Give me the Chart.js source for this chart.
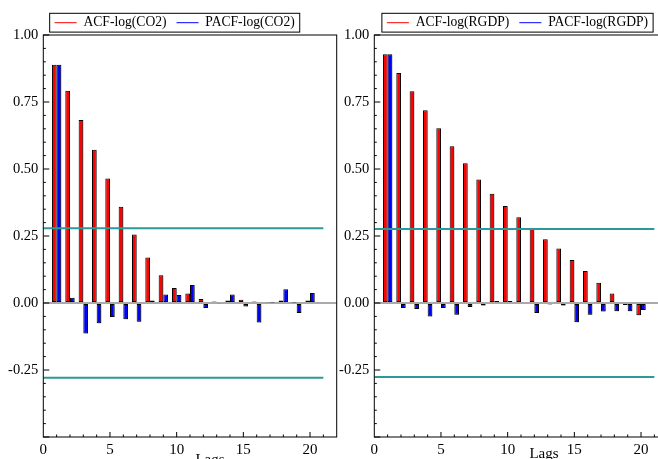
<!DOCTYPE html>
<html><head><meta charset="utf-8">
<script src="https://cdn.jsdelivr.net/npm/chart.js@4.4.1/dist/chart.umd.min.js"></script>
<style>
html,body{margin:0;padding:0;width:658px;height:459px;overflow:hidden;background:#fff;}
canvas{position:absolute;top:0;}
#c1{left:0;}
#c2{left:331px;}
</style></head><body>
<canvas id="c1" width="345" height="459"></canvas>
<canvas id="c2" width="345" height="459"></canvas>
<script>
// ---------- data ----------
const lags = [1,2,3,4,5,6,7,8,9,10,11,12,13,14,15,16,17,18,19,20];
const acfCO2  = [0.889,0.792,0.683,0.572,0.465,0.359,0.256,0.170,0.104,0.056,0.035,0.015,0.006,0.009,0.012,0.006,0.003,0.009,0.002,0.009];
const pacfCO2 = [0.889,0.020,-0.114,-0.076,-0.052,-0.061,-0.070,0.009,0.032,0.030,0.067,-0.019,-0.003,0.032,-0.013,-0.073,0.002,0.051,-0.037,0.037];
const acfRGDP  = [0.928,0.858,0.790,0.719,0.652,0.585,0.521,0.461,0.408,0.362,0.320,0.276,0.238,0.203,0.160,0.119,0.076,0.035,-0.007,-0.046];
const pacfRGDP = [0.928,-0.019,-0.022,-0.050,-0.019,-0.044,-0.015,-0.009,0.007,0.007,0.004,-0.037,-0.006,-0.009,-0.072,-0.044,-0.032,-0.031,-0.031,-0.026];
const bandCO2 = 0.279;
const bandRGDP = 0.276;
const bandLags = [0, 21];
const namesCO2 = ['ACF-log(CO2)', 'PACF-log(CO2)'];
const namesRGDP = ['ACF-log(RGDP)', 'PACF-log(RGDP)'];
const xTickValues = [0, 5, 10, 15, 20];
const yTickValues = [1.00, 0.75, 0.50, 0.25, 0.00, -0.25];
const xAxisTitle = 'Lags';

// ---------- styling ----------
const SERIF = '"Liberation Serif", "Times New Roman", serif';
Chart.defaults.font.family = SERIF;
Chart.defaults.color = '#000';
const RED = '#ff0000', BLUE = '#0000ff', TEAL = '#2a9a98';
const LEG_FS = 13.6;
const LEG_CY = 22.7;
const AREA_TOP = 35, AREA_BOTTOM = 437;

const barShadow = {
  id: 'barShadow',
  beforeDatasetDraw(chart, args) {
    if (chart.data.datasets[args.index].type !== 'bar') return;
    const c = chart.ctx; c.save();
    c.shadowColor = 'rgba(0,0,0,0.3)';
    c.shadowOffsetX = 1.3; c.shadowOffsetY = 0.8; c.shadowBlur = 1.5;
  },
  afterDatasetDraw(chart, args) {
    if (chart.data.datasets[args.index].type !== 'bar') return;
    chart.ctx.restore();
  }
};

const legendShift = {
  id: 'legendShift',
  afterLayout(chart, args, opts) {
    const lg = chart.legend; if (!lg) return;
    const p = lg.options.labels.padding;
    const cur = lg.top + p + LEG_FS / 2;
    const dy = LEG_CY - cur;
    lg.top += dy; lg.bottom += dy;
    const dx = opts.centerX - (lg.left + lg.right) / 2;
    lg.left += dx; lg.right += dx;
  }
};

const decor = {
  id: 'decor',
  afterDraw(chart, args, opts) {
    const {ctx, chartArea: a, scales: {x, y}} = chart;
    ctx.save();
    ctx.strokeStyle = '#000'; ctx.lineWidth = 1;
    ctx.strokeRect(a.left, a.top, a.right - a.left, a.bottom - a.top);
    ctx.beginPath();
    for (let i = -10; i <= 20; i++) {
      const py = y.getPixelForValue(i * 0.05);
      const len = (i % 5 === 0) ? 6 : 2.5;
      ctx.moveTo(a.left, py); ctx.lineTo(a.left + len, py);
    }
    for (let k = 1; k <= 21; k++) {
      const px = x.getPixelForValue(k);
      const len = (k % 5 === 0) ? 5 : 2.5;
      ctx.moveTo(px, a.bottom); ctx.lineTo(px, a.bottom - len);
    }
    ctx.stroke();
    // axis title
    ctx.font = '15px ' + SERIF; ctx.fillStyle = '#000';
    ctx.textAlign = 'center'; ctx.textBaseline = 'alphabetic';
    ctx.fillText(xAxisTitle, opts.titleX, opts.titleY);
    // legend frame
    const lg = chart.legend; const lo = lg.options.labels;
    ctx.font = LEG_FS + 'px ' + SERIF;
    let w = 0;
    lg.legendItems.forEach(it => { w += lo.pointStyleWidth + LEG_FS / 2 + ctx.measureText(it.text).width; });
    w += lo.padding * (lg.legendItems.length - 1);
    const cx = (lg.left + lg.right) / 2;
    ctx.strokeStyle = '#000'; ctx.lineWidth = 1;
    ctx.strokeRect(cx - w / 2 - 5, LEG_CY - 9.4, w + 10, 18.8);
    ctx.restore();
  }
};

function makeChart(id, acf, pacf, band, names, legendCX, titleX, titleY) {
  const padR = 8.3;
  const cfg = {
    type: 'bar',
    data: {
      datasets: [
        { type: 'bar', label: names[0], data: lags.map((l, i) => ({x: l, y: acf[i]})),
          backgroundColor: RED, borderColor: '#000', borderWidth: 1, borderSkipped: false, order: 1 },
        { type: 'bar', label: names[1], data: lags.map((l, i) => ({x: l, y: pacf[i]})),
          backgroundColor: BLUE, borderColor: '#000', borderWidth: 1, borderSkipped: false, order: 1 },
        { type: 'line', label: 'band+', data: bandLags.map(l => ({x: l, y: band})),
          borderColor: TEAL, borderWidth: 2, pointRadius: 0, fill: false, order: 0 },
        { type: 'line', label: 'band-', data: bandLags.map(l => ({x: l, y: -band})),
          borderColor: TEAL, borderWidth: 2, pointRadius: 0, fill: false, order: 0 }
      ]
    },
    options: {
      responsive: false, animation: false, devicePixelRatio: 1,
      categoryPercentage: 0.7, barPercentage: 1.0,
      layout: { padding: { left: 0, right: padR, top: 1.5, bottom: 0 } },
      plugins: {
        tooltip: { enabled: false },
        legend: {
          display: true, position: 'top', onClick: null,
          labels: {
            usePointStyle: true, pointStyleWidth: 22, padding: 10,
            font: { size: LEG_FS, family: SERIF }, color: '#000',
            generateLabels: (ch) => ch.data.datasets.slice(0, 2).map((d, i) => ({
              text: d.label, strokeStyle: i === 0 ? RED : BLUE, fillStyle: i === 0 ? RED : BLUE,
              lineWidth: 1, pointStyle: 'line', hidden: false, datasetIndex: i, fontColor: '#000'
            }))
          }
        },
        legendShift: { centerX: legendCX },
        decor: { titleX, titleY }
      },
      scales: {
        x: {
          type: 'linear', min: 0, max: 22, offset: false,
          grid: { display: false, drawTicks: false }, border: { display: false },
          ticks: {
            stepSize: 5, includeBounds: false, padding: 4, maxRotation: 0,
            font: { size: 15, family: SERIF }, color: '#000',
            callback: v => xTickValues.includes(v) ? String(v) : ''
          },
          afterFit: s => { s.height = 459 - AREA_BOTTOM; }
        },
        y: {
          type: 'linear', min: -0.5, max: 1.0,
          grid: { drawTicks: false, lineWidth: 2,
                  color: c => (c.tick && Math.abs(c.tick.value) < 1e-9) ? '#aaaaaa' : 'rgba(0,0,0,0)' },
          border: { display: false },
          ticks: {
            stepSize: 0.25, padding: 5, font: { size: 14.5, family: SERIF }, color: '#000',
            callback: v => {
              const hit = yTickValues.find(t => Math.abs(t - v) < 1e-9);
              return hit === undefined ? '' : hit.toFixed(2);
            }
          },
          afterFit: s => { s.width = 43.3; }
        }
      }
    },
    plugins: [barShadow, legendShift, decor]
  };
  const ch = new Chart(document.getElementById(id), cfg);
  const d = AREA_TOP - ch.chartArea.top;
  if (Math.abs(d) > 0.05) { ch.options.layout.padding.top += d; ch.update('none'); }
  return ch;
}

makeChart('c1', acfCO2, pacfCO2, bandCO2, namesCO2, 174.7, 210, 464);
makeChart('c2', acfRGDP, pacfRGDP, bandRGDP, namesRGDP, 186.5, 213, 458);
</script>
</body></html>
